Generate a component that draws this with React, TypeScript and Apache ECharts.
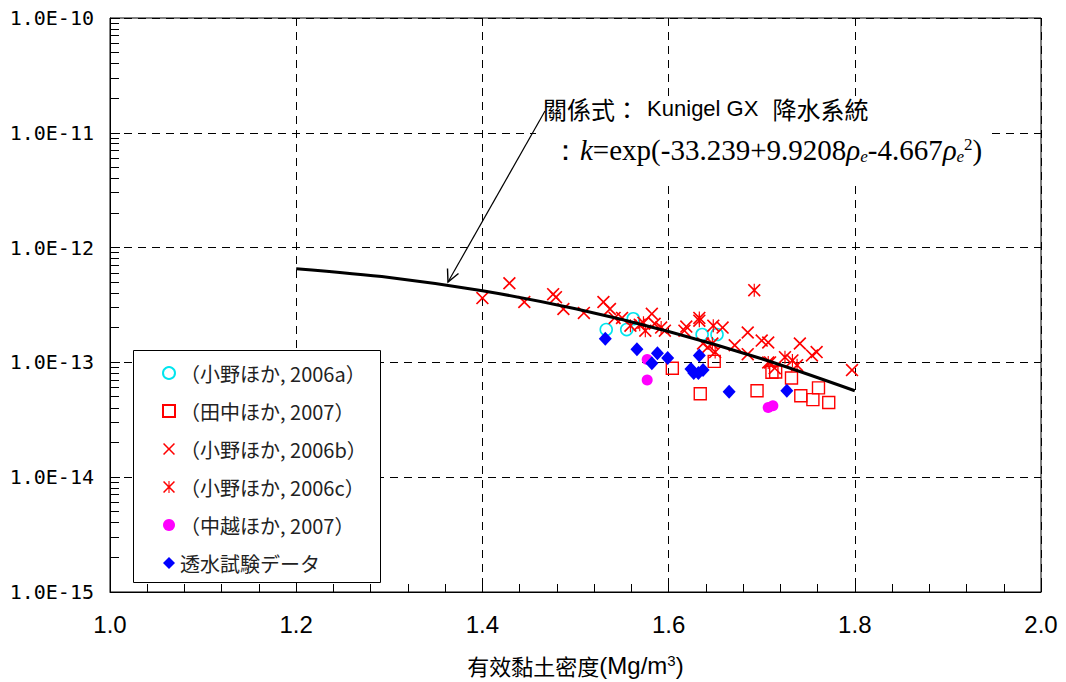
import React, { useEffect, useRef } from "react";
import * as echarts from "echarts";

// ---- data ----
const xTickLabels = ["1.0", "1.2", "1.4", "1.6", "1.8", "2.0"];
const yTickExponents = [-15, -14, -13, -12, -11, -10];
const yTickLabels = ["1.0E-15", "1.0E-14", "1.0E-13", "1.0E-12", "1.0E-11", "1.0E-10"];
const yMinorMultipliers = [2, 3, 4, 5, 6, 7, 8, 9];

const seriesNames = [
  "（小野ほか, 2006a）",
  "（田中ほか, 2007）",
  "（小野ほか, 2006b）",
  "（小野ほか, 2006c）",
  "（中越ほか, 2007）",
  "透水試験データ",
];

const ono2006a = [
  [1.533, 1.93e-13], [1.555, 1.93e-13], [1.562, 2.4e-13], [1.636, 1.75e-13], [1.652, 1.75e-13],
];
const tanaka2007 = [
  [1.604, 8.9e-14], [1.634, 5.33e-14], [1.649, 1.02e-13], [1.695, 5.66e-14], [1.715, 8.24e-14],
  [1.711, 8.2e-14], [1.732, 7.31e-14], [1.742, 5.13e-14], [1.755, 4.74e-14], [1.761, 6.0e-14],
  [1.772, 4.47e-14],
];
const ono2006b = [
  [1.4, 3.63e-13], [1.429, 4.89e-13], [1.445, 3.36e-13], [1.476, 3.93e-13], [1.479, 3.7e-13],
  [1.487, 2.92e-13], [1.509, 2.7e-13], [1.53, 3.36e-13], [1.537, 2.92e-13], [1.542, 2.44e-13],
  [1.55, 2.44e-13], [1.582, 2.65e-13], [1.585, 2.17e-13], [1.596, 1.89e-13], [1.617, 1.89e-13],
  [1.619, 2.05e-13], [1.658, 2.01e-13], [1.685, 1.82e-13], [1.671, 1.41e-13], [1.7, 1.55e-13],
  [1.707, 1.49e-13], [1.741, 1.46e-13], [1.754, 1.15e-13], [1.759, 1.23e-13], [1.797, 8.57e-14],
  [1.714, 8.91e-14], [1.709, 1.0e-13], [1.685, 1.18e-13], [1.637, 1.46e-13], [1.642, 1.35e-13],
];
const ono2006c = [
  [1.692, 4.26e-13], [1.633, 2.31e-13], [1.575, 1.89e-13], [1.573, 2.21e-13], [1.592, 2.01e-13],
  [1.648, 2.09e-13], [1.647, 1.46e-13], [1.65, 1.23e-13], [1.725, 1.11e-13], [1.733, 1.04e-13],
  [1.738, 9.46e-14], [1.569, 2.13e-13], [1.559, 2.09e-13], [1.633, 2.44e-13], [1.707, 1.0e-13],
];
const nakagoshi2007 = [
  [1.577, 1.06e-13], [1.577, 7.03e-14], [1.707, 4.04e-14], [1.712, 4.2e-14],
];
const permeabilityTest = [
  [1.532, 1.61e-13], [1.566, 1.3e-13], [1.582, 9.84e-14], [1.588, 1.2e-13], [1.599, 1.09e-13],
  [1.624, 8.74e-14], [1.627, 8.07e-14], [1.632, 8.07e-14], [1.633, 1.15e-13], [1.637, 8.57e-14],
  [1.665, 5.55e-14], [1.727, 5.66e-14],
];

// relation curve
const curveX = [1.2, 1.3, 1.4, 1.5, 1.6, 1.7, 1.8];
const curveK = [6.55e-13, 5.5e-13, 4.21e-13, 2.93e-13, 1.86e-13, 1.075e-13, 5.66e-14];

// ---- symbols ----
const crossPath =
  "path://M0,0.9 L0.9,0 L5,4.1 L9.1,0 L10,0.9 L5.9,5 L10,9.1 L9.1,10 L5,5.9 L0.9,10 L0,9.1 L4.1,5 Z";
const asteriskPath =
  "path://M0,0.9 L0.9,0 L5,4.1 L9.1,0 L10,0.9 L5.9,5 L10,9.1 L9.1,10 L5,5.9 L0.9,10 L0,9.1 L4.1,5 Z M4.55,0 L5.45,0 L5.45,10 L4.55,10 Z";

export default function App() {
  const ref = useRef<HTMLDivElement>(null);

  useEffect(() => {
    if (!ref.current) return;
    const chart = echarts.init(ref.current, undefined, { renderer: "svg" });

    const minorTickData: number[][] = [];
    yTickExponents.slice(0, -1).forEach((e) => {
      yMinorMultipliers.forEach((m) => minorTickData.push([1.0, m * Math.pow(10, e)]));
    });

    const curveData = curveX.map((x, i) => [x, curveK[i]]);

    const option: any = {
      animation: false,
      backgroundColor: "#fff",
      grid: {
        left: 110,
        right: 25,
        top: 18,
        bottom: 82,
        show: true,
        borderColor: "#000",
        borderWidth: 1,
        backgroundColor: "transparent",
      },
      xAxis: {
        type: "value",
        min: 1.0,
        max: 2.0,
        interval: 0.2,
        axisLine: { show: true, onZero: false, lineStyle: { color: "#000", width: 1 } },
        axisTick: { show: true, inside: true, length: 8, lineStyle: { color: "#000" } },
        minorTick: { show: true, splitNumber: 5, length: 8, lineStyle: { color: "#000" } },
        splitLine: { show: true, lineStyle: { color: "#000", type: [8, 6], width: 1 } },
        axisLabel: {
          color: "#000",
          fontFamily: "Liberation Sans Narrow, Arial Narrow, Liberation Sans",
          fontSize: 24,
          margin: 20,
          formatter: (v: number) => xTickLabels[Math.round((v - 1.0) / 0.2)] ?? "",
        },
        name: "有效黏土密度{en|(Mg/m}{sup|3}{en|)}",
        nameLocation: "middle",
        nameGap: 61,
        nameTextStyle: {
          color: "#000",
          fontFamily: "Noto Sans CJK TC",
          fontSize: 22,
          rich: {
            en: { fontFamily: "Liberation Sans Narrow, Liberation Sans", fontSize: 24, color: "#000" },
            sup: { fontFamily: "Liberation Sans Narrow, Liberation Sans", fontSize: 15, color: "#000", verticalAlign: "top", padding: [0, 0, 8, 0] },
          },
        },
      },
      yAxis: {
        type: "log",
        logBase: 10,
        min: 1e-15,
        max: 1e-10,
        splitNumber: 5,
        axisLine: { show: true, lineStyle: { color: "#000", width: 1 } },
        axisTick: { show: true, inside: true, length: 10, lineStyle: { color: "#000" } },
        splitLine: { show: true, lineStyle: { color: "#000", type: [8, 6], width: 1 } },
        axisLabel: {
          color: "#000",
          fontFamily: "DejaVu Sans Mono",
          fontSize: 20,
          margin: 16,
          formatter: (v: number) => {
            const e = Math.round(Math.log10(v));
            const i = yTickExponents.indexOf(e);
            return i >= 0 ? yTickLabels[i] : "";
          },
        },
      },
      legend: {
        data: seriesNames,
        orient: "vertical",
        left: 162,
        top: 362,
        padding: 0,
        itemWidth: 12,
        itemHeight: 12,
        itemGap: 16,
        z: 20,
        textStyle: {
          fontFamily: "Noto Sans CJK JP",
          fontSize: 20,
          color: "#222",
          lineHeight: 22,
        },
      },
      graphic: [
        {
          type: "rect",
          z: 10,
          shape: { x: 133.5, y: 350.5, width: 247, height: 232 },
          style: { fill: "#fff", stroke: "#000", lineWidth: 1 },
        },
        {
          type: "rect",
          z: 10,
          shape: { x: 536, y: 96, width: 456, height: 86 },
          style: { fill: "#fff", stroke: null },
        },
        {
          type: "polyline",
          z: 11,
          shape: { points: [[545, 111], [448, 282]] },
          style: { stroke: "#000", lineWidth: 1.2, fill: null },
        },
        {
          type: "polyline",
          z: 11,
          shape: { points: [[447.5, 268.5], [448, 282], [458.5, 273.5]] },
          style: { stroke: "#000", lineWidth: 1.4, fill: null },
        },
        {
          type: "text",
          z: 12,
          x: 543,
          y: 108,
          style: {
            text: "{c|關係式：}{e| Kunigel GX }{c|降水系統}",
            verticalAlign: "middle",
            rich: {
              c: { fontFamily: "Noto Sans CJK TC", fontSize: 24, fill: "#000" },
              e: { fontFamily: "Liberation Sans", fontSize: 22, fill: "#000", padding: [0, 8, 0, 2] },
            },
          },
        },
        {
          type: "text",
          z: 12,
          x: 551,
          y: 150,
          style: {
            text: "{n|：}{i|k}{n|=exp(-33.239+9.9208}{i|ρ}{sub|e}{n|-4.667}{i|ρ}{sub|e}{sup|2}{n|)}",
            verticalAlign: "middle",
            rich: {
              n: { fontFamily: "Liberation Serif", fontSize: 29, fill: "#000" },
              i: { fontFamily: "Liberation Serif", fontStyle: "italic", fontSize: 29, fill: "#000" },
              sub: { fontFamily: "Liberation Serif", fontStyle: "italic", fontSize: 17, fill: "#000", verticalAlign: "bottom" },
              sup: { fontFamily: "Liberation Serif", fontSize: 17, fill: "#000", verticalAlign: "top" },
            },
          },
        },
      ],
      series: [
        {
          name: "minorTicks",
          type: "custom",
          clip: false,
          data: minorTickData,
          renderItem: (params: any, api: any) => {
            const p = api.coord([api.value(0), api.value(1)]);
            return {
              type: "rect",
              shape: { x: p[0], y: Math.floor(p[1]), width: 9, height: 1 },
              style: { fill: "#000" },
            };
          },
        },
        {
          name: "curve",
          type: "line",
          data: curveData,
          symbol: "none",
          smooth: 0.3,
          z: 3,
          lineStyle: { color: "#000", width: 3 },
        },
        {
          name: seriesNames[0],
          type: "scatter",
          data: ono2006a,
          symbol: "circle",
          symbolSize: 12,
          itemStyle: { color: "rgba(0,0,0,0)", borderColor: "#00e5ee", borderWidth: 1.6, opacity: 1 },
        },
        {
          name: seriesNames[1],
          type: "scatter",
          data: tanaka2007,
          symbol: "rect",
          symbolSize: 12,
          itemStyle: { color: "rgba(0,0,0,0)", borderColor: "#ff0000", borderWidth: 1.4, opacity: 1 },
        },
        {
          name: seriesNames[2],
          type: "scatter",
          data: ono2006b,
          symbol: crossPath,
          symbolSize: 13,
          itemStyle: { color: "#ff0000", opacity: 1 },
        },
        {
          name: seriesNames[3],
          type: "scatter",
          data: ono2006c,
          symbol: asteriskPath,
          symbolSize: 13,
          itemStyle: { color: "#ff0000", opacity: 1 },
        },
        {
          name: seriesNames[4],
          type: "scatter",
          data: nakagoshi2007,
          symbol: "circle",
          symbolSize: 11,
          itemStyle: { color: "#ff00ff", opacity: 1 },
        },
        {
          name: seriesNames[5],
          type: "scatter",
          data: permeabilityTest,
          symbol: "diamond",
          symbolSize: [13, 14],
          itemStyle: { color: "#0000ff", opacity: 1 },
        },
      ],
    };

    chart.setOption(option);
    return () => chart.dispose();
  }, []);

  return (
    <div
      ref={ref}
      style={{ position: "fixed", left: 0, top: 0, width: 1066, height: 682, background: "#fff" }}
    />
  );
}
